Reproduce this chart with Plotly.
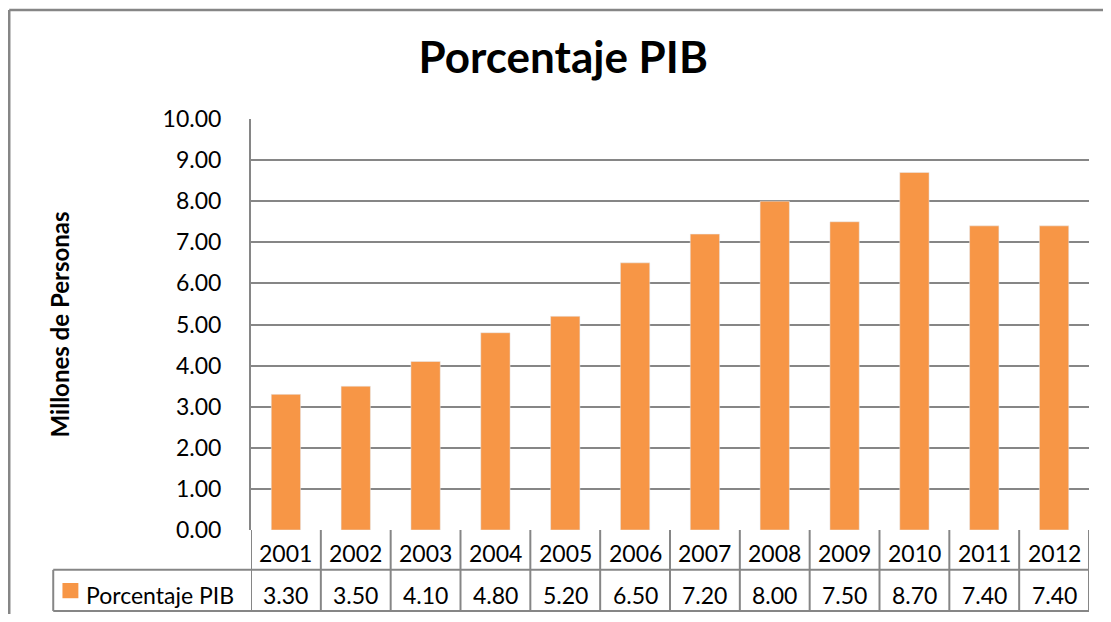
import plotly.graph_objects as go

years = ["2001", "2002", "2003", "2004", "2005", "2006",
         "2007", "2008", "2009", "2010", "2011", "2012"]
pib = [3.30, 3.50, 4.10, 4.80, 5.20, 6.50, 7.20, 8.00, 7.50, 8.70, 7.40, 7.40]
series_name = "Porcentaje PIB"
title = "Porcentaje PIB"
y_title = "Millones de Personas"

FONT = "Lato"
GRID = "#868686"
ORANGE = "#F79646"
TXT = dict(size=23, color="black", family=FONT)

fig = go.Figure(go.Bar(x=years, y=pib, marker_color=ORANGE, width=0.42,
                       name=series_name, showlegend=False))

# data table rows below the axis (in y-domain units)
row1_mid, row_sep, row2_mid, row_bot = -0.056, -0.097, -0.158, -0.197
shapes = []
annotations = []
n = len(years)
for i, (yr, v) in enumerate(zip(years, pib)):
    annotations.append(dict(x=i, y=row1_mid, xref="x", yref="y domain", text=yr,
                            showarrow=False, yanchor="middle", font=TXT))
    annotations.append(dict(x=i, y=row2_mid, xref="x", yref="y domain", text=f"{v:.2f}",
                            showarrow=False, yanchor="middle", font=TXT))
for i in range(n + 1):
    shapes.append(dict(type="line", xref="x", yref="y domain", x0=i - 0.5, x1=i - 0.5,
                       y0=0, y1=row_bot, line=dict(color=GRID, width=2)))
# horizontal table lines, including legend cell on the left
for yy in (row_sep, row_bot):
    shapes.append(dict(type="line", xref="paper", yref="y domain", x0=-0.236, x1=1,
                       y0=yy, y1=yy, line=dict(color=GRID, width=2)))
shapes.append(dict(type="line", xref="paper", yref="y domain", x0=-0.236, x1=-0.236,
                   y0=row_sep, y1=row_bot, line=dict(color=GRID, width=2)))
# legend swatch in table
shapes.append(dict(type="rect", xref="paper", yref="y domain", x0=-0.225, x1=-0.206,
                   y0=-0.129, y1=-0.166, fillcolor=ORANGE, line=dict(width=0)))
annotations.append(dict(x=-0.199, y=row2_mid, xref="paper", yref="y domain",
                        text=series_name, showarrow=False, xanchor="left",
                        yanchor="middle", font=TXT))
# y axis title
annotations.append(dict(x=-0.228, y=0.5, xref="paper", yref="paper", textangle=-90,
                        text=f"<b>{y_title}</b>", showarrow=False,
                        xanchor="center", yanchor="middle",
                        font=dict(size=24, color="black", family=FONT)))
# outer chart border: only top and left edges fall inside the picture
shapes.append(dict(type="line", xref="paper", yref="paper", x0=-0.2885, x1=1.03,
                   y0=1.2652, y1=1.2652, line=dict(color=GRID, width=2.5)))
shapes.append(dict(type="line", xref="paper", yref="paper", x0=-0.2885, x1=-0.2885,
                   y0=-0.3, y1=1.2652, line=dict(color=GRID, width=2.5)))

# page body has an 8px margin; keep the figure inside the window (no scrollbars)
fig.update_layout(
    width=1095, height=606,
    margin=dict(l=243, r=14, t=111, b=84),
    paper_bgcolor="white", plot_bgcolor="white",
    font=dict(family=FONT, color="black"),
    title=dict(text=f"<b>{title}</b>", x=0.507, xanchor="center",
               y=1 - 50 / 606, yanchor="middle", font=dict(size=44, family=FONT)),
    shapes=shapes, annotations=annotations,
)
fig.update_xaxes(type="category", range=[-0.5, n - 0.5], showticklabels=False,
                 showgrid=False, zeroline=False, showline=False, ticks="",
                 automargin=False)
fig.update_yaxes(range=[0, 10], dtick=1, tickformat=".2f", showgrid=True,
                 gridcolor=GRID, gridwidth=2, zeroline=False, showline=True,
                 linecolor=GRID, linewidth=2, ticks="", ticklabelstandoff=23,
                 tickfont=dict(size=23, family=FONT), automargin=False)

fig.write_html("out.html")
